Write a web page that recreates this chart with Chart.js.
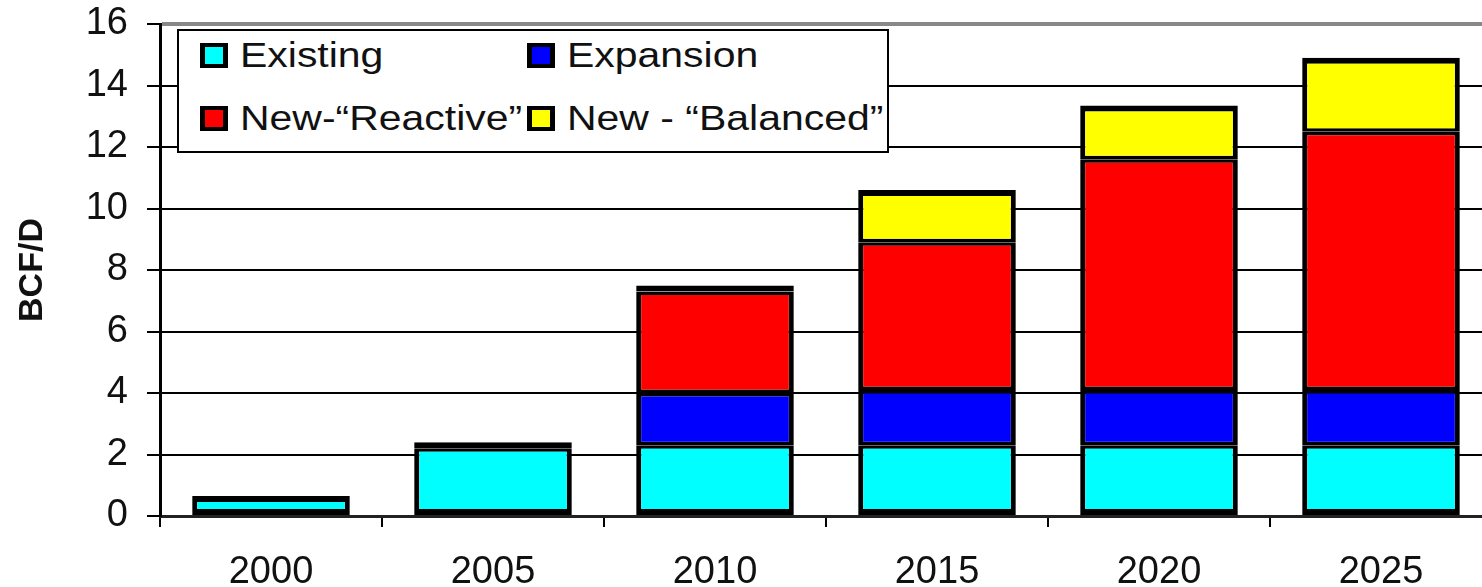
<!DOCTYPE html>
<html>
<head>
<meta charset="utf-8">
<script src="https://cdn.jsdelivr.net/npm/chart.js"></script>
<style>
  html, body { margin: 0; padding: 0; background: #fff; overflow: hidden; }
  #wrap { position: relative; width: 1500px; height: 587px; }
  #legend {
    position: absolute; left: 177px; top: 29px; width: 708px; height: 120px;
    border: 2px solid #000; background: #fff;
  }
  #legend .item { position: absolute; height: 40px; display: flex; align-items: center; }
  #legend .box {
    box-sizing: border-box; width: 28px; height: 25px;
    border-style: solid; border-color: #000; border-width: 4px 5px;
  }
  #legend .txt {
    display: inline-block; margin-left: 12px; white-space: nowrap;
    font: 35px "Liberation Sans", Arial, sans-serif; color: #111;
    transform: scaleX(1.17); transform-origin: left center;
  }
</style>
</head>
<body>
<div id="wrap">
  <canvas id="chart"></canvas>
  <div id="legend"></div>
</div>
<script>
/* capacidade por ano, em BCF/D */
var years = ["2000", "2005", "2010", "2015", "2020", "2025"];

var seriesNames = ["Existing", "Expansion", "New-\u201cReactive\u201d", "New - \u201cBalanced\u201d"];
var seriesColors = ["#00ffff", "#0000ff", "#ff0000", "#ffff00"];

var existing  = [0.65, 2.2, 2.3, 2.3, 2.3, 2.3];
var expansion = [0, 0.2, 1.7, 1.8, 1.8, 1.8];
var reactive  = [0, 0, 3.3, 4.8, 7.5, 8.4];
var balanced  = [0, 0, 0.2, 1.7, 1.75, 2.4];

var yTicks = [0, 2, 4, 6, 8, 10, 12, 14, 16];

var fontFamily = '"Liberation Sans", Arial, sans-serif';

// borda grossa por fora da pilha, mais fina entre os segmentos
function barBorder(ctx) {
    var i = ctx.dataIndex, d = ctx.datasetIndex;
    var sets = ctx.chart.data.datasets;
    var topSet = 0;
    for (var k = 0; k < sets.length; k++) {
        if (sets[k].data[i] > 0) topSet = k;
    }
    return { top: d === topSet ? 6 : 3.5, bottom: d === 0 ? 6 : 3.5, left: 5, right: 5 };
}

var values = [existing, expansion, reactive, balanced];

var datasets = values.map(function (data, n) {
    return {
        label: seriesNames[n],
        data: data,
        backgroundColor: seriesColors[n],
        borderColor: "#000",
        borderWidth: barBorder,
        borderSkipped: false,
        inflateAmount: 0,
        barPercentage: 0.71,
        categoryPercentage: 1.0
    };
});

var ctx = document.getElementById("chart");

var chartGraph = new Chart(ctx, {
    type: "bar",
    data: { labels: years, datasets: datasets },
    options: {
        responsive: true,
        maintainAspectRatio: false,
        animation: false,
        layout: { padding: { top: 24, right: 8, bottom: 0, left: 0 } },
        plugins: {
            legend: { display: false },
            tooltip: { enabled: false }
        },
        scales: {
            x: {
                stacked: true,
                grid: {
                    offset: true,
                    drawOnChartArea: false,
                    color: "#000",
                    lineWidth: 2,
                    tickLength: 11
                },
                border: { color: "#222", width: 3 },
                ticks: {
                    font: { family: fontFamily, size: 38 },
                    color: "#111",
                    padding: 23
                },
                afterFit: function (scale) {
                    scale.height = 71;
                    scale.paddingLeft = 0;
                    scale.paddingRight = 0;
                }
            },
            y: {
                stacked: true,
                min: 0,
                max: 16,
                afterBuildTicks: function (scale) {
                    scale.ticks = yTicks.map(function (v) { return { value: v }; });
                },
                ticks: {
                    font: { family: fontFamily, size: 38 },
                    color: "#111",
                    padding: 19
                },
                grid: {
                    color: function (c) { return c.tick && c.tick.value === 16 ? "#888" : "#000"; },
                    lineWidth: function (c) { return c.tick && c.tick.value === 16 ? 4 : 2; },
                    tickColor: "#000",
                    tickWidth: 2,
                    tickLength: 13
                },
                border: { color: "#000", width: 3 },
                title: {
                    display: true,
                    text: "BCF/D",
                    font: { family: fontFamily, size: 34, weight: "bold" },
                    color: "#111",
                    padding: { top: 12, bottom: 0 }
                },
                afterFit: function (scale) {
                    scale.width = 160;
                    scale.paddingTop = 0;
                    scale.paddingBottom = 0;
                }
            }
        }
    }
});

/* legenda em caixa, duas colunas */
var legend = document.getElementById("legend");
seriesNames.forEach(function (name, n) {
    var col = n % 2, row = Math.floor(n / 2);
    var item = document.createElement("div");
    item.className = "item";
    item.style.left = (21 + col * 327) + "px";
    item.style.top = (4 + row * 63) + "px";
    var box = document.createElement("span");
    box.className = "box";
    box.style.background = seriesColors[n];
    var txt = document.createElement("span");
    txt.className = "txt";
    txt.textContent = name;
    item.appendChild(box);
    item.appendChild(txt);
    legend.appendChild(item);
});
</script>
</body>
</html>
